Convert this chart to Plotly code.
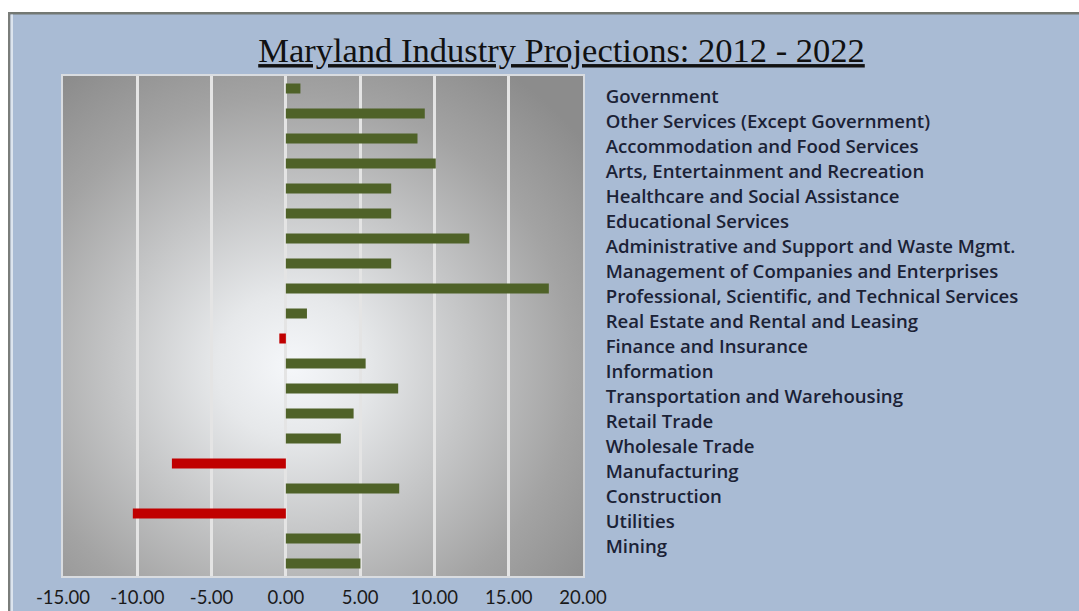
import base64
import plotly.graph_objects as go

# ---------------- data ----------------
industry_labels = [
    "Government",
    "Other Services (Except Government)",
    "Accommodation and Food Services",
    "Arts, Entertainment and Recreation",
    "Healthcare and Social Assistance",
    "Educational Services",
    "Administrative and Support and Waste Mgmt.",
    "Management of Companies and Enterprises",
    "Professional, Scientific, and Technical Services",
    "Real Estate and Rental and Leasing",
    "Finance and Insurance",
    "Information",
    "Transportation and Warehousing",
    "Retail Trade",
    "Wholesale Trade",
    "Manufacturing",
    "Construction",
    "Utilities",
    "Mining",
]
bar_positions = list(range(1, 21))
bar_values = [0.98, 9.35, 8.86, 10.09, 7.09, 7.09, 12.35, 7.09, 17.70, 1.42,
              -0.44, 5.37, 7.56, 4.56, 3.70, -7.67, 7.63, -10.30, 5.02, 5.02]
x_tick_values = [-15, -10, -5, 0, 5, 10, 15, 20]
x_tick_text = ["-15.00", "-10.00", "-5.00", "0.00", "5.00", "10.00", "15.00", "20.00"]
title_text = "Maryland Industry Projections: 2012 - 2022"

# ---------------- style ----------------
W, H = 1079, 611
PL, PR, PT, PB = 63, 583, 76, 576   # plot area in pixels
GREEN = "#4F6228"
RED = "#C00000"
BG = "#A9BBD4"
LABEL_OFFSET = 0.30

bar_colors = [GREEN if v >= 0 else RED for v in bar_values]

fig = go.Figure()
fig.add_trace(go.Bar(
    x=bar_values, y=bar_positions, orientation="h",
    marker=dict(color=bar_colors, line=dict(width=0)),
    width=0.4, showlegend=False, hoverinfo="x",
))

# radial gradient background for the plot area (SVG data URI)
svg = f'''<svg xmlns="http://www.w3.org/2000/svg" width="520" height="500" viewBox="0 0 520 500" preserveAspectRatio="none">
<defs><radialGradient id="g" cx="0.44" cy="0.58" r="0.72" fx="0.44" fy="0.58">
<stop offset="0" stop-color="#F5F7FA"/>
<stop offset="0.2" stop-color="#E6E8EA"/>
<stop offset="0.47" stop-color="#C5C6C7"/>
<stop offset="0.75" stop-color="#A3A3A3"/>
<stop offset="1" stop-color="#8C8C8C"/>
</radialGradient></defs>
<rect x="0" y="0" width="520" height="500" fill="url(#g)"/></svg>'''
src = "data:image/svg+xml;base64," + base64.b64encode(svg.encode()).decode()


def px_x(p):
    return (p - PL) / (PR - PL)


def px_y(p):
    return (PB - p) / (PB - PT)


shapes = [
    # white strip top & left
    dict(type="rect", xref="paper", yref="paper", x0=px_x(0), x1=px_x(W), y0=px_y(0), y1=px_y(12),
         fillcolor="white", line=dict(width=0), layer="below"),
    dict(type="rect", xref="paper", yref="paper", x0=px_x(0), x1=px_x(8), y0=px_y(0), y1=px_y(H),
         fillcolor="white", line=dict(width=0), layer="below"),
    # gray frame lines
    dict(type="rect", xref="paper", yref="paper", x0=px_x(8), x1=px_x(W), y0=px_y(12), y1=px_y(14.5),
         fillcolor="#737873", line=dict(width=0), layer="below"),
    dict(type="rect", xref="paper", yref="paper", x0=px_x(8), x1=px_x(10.5), y0=px_y(12), y1=px_y(H),
         fillcolor="#7A7D7A", line=dict(width=0), layer="below"),
    dict(type="rect", xref="paper", yref="paper", x0=px_x(10.5), x1=px_x(13), y0=px_y(14.5), y1=px_y(H),
         fillcolor="#DCE4EE", line=dict(width=0), layer="below"),
]

fig.update_layout(
    width=W, height=H,
    margin=dict(l=PL, r=W - PR, t=PT, b=H - PB, pad=0, autoexpand=False),
    paper_bgcolor=BG,
    plot_bgcolor="rgba(0,0,0,0)",
    shapes=shapes,
    images=[dict(source=src, xref="paper", yref="paper", x=0, y=1, sizex=1, sizey=1,
                 xanchor="left", yanchor="top", sizing="stretch", layer="below")],
    title=dict(text=f"<u>{title_text}</u>",
               font=dict(family="Liberation Serif", size=34.5, color="#111111"),
               x=561.5 / W, xanchor="center", xref="container",
               y=1 - 50 / H, yanchor="middle", yref="container"),
    bargap=0.6,
    showlegend=False,
)

fig.update_xaxes(
    range=[-15, 20], tickvals=x_tick_values, ticktext=x_tick_text,
    showgrid=True, gridcolor="#E4E4E4", gridwidth=3,
    zeroline=False, showline=True, mirror=True, linecolor="#D9DCE0", linewidth=2,
    ticks="", ticklabelstandoff=4, automargin=False,
    tickfont=dict(family="Lato", size=18.5, color="#1A1A1A"),
    fixedrange=True,
)
fig.update_yaxes(
    range=[20.5, 0.5], side="right",
    tickvals=[p + LABEL_OFFSET for p in bar_positions[:len(industry_labels)]],
    ticktext=industry_labels,
    showgrid=False, zeroline=False, showline=True, mirror=True, linecolor="#D9DCE0", linewidth=2,
    ticks="", ticklabelstandoff=17, automargin=False,
    tickfont=dict(family="Open Sans", size=18.6, color="#1B2236", weight=600),
    fixedrange=True,
)

fig.write_html("out.html")
